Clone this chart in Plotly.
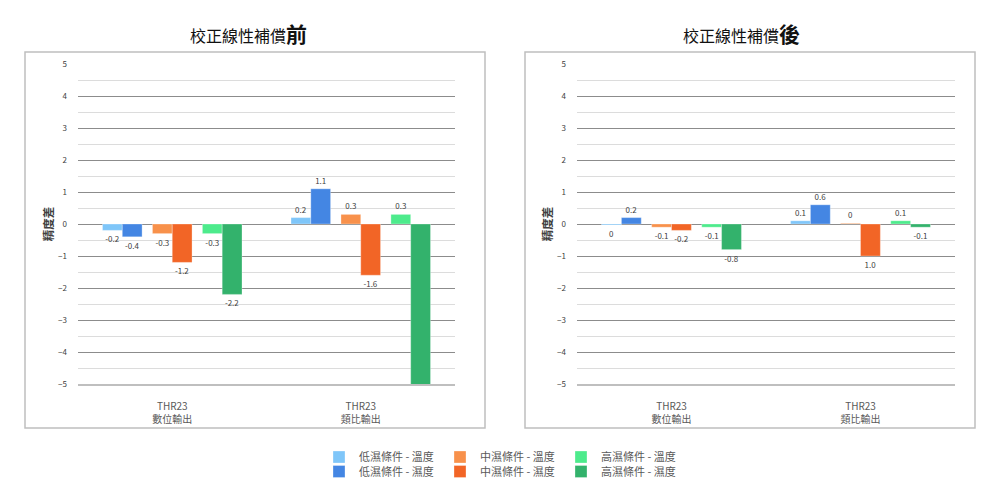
import plotly.graph_objects as go

# Categories and series
categories = ["THR23<br>數位輸出", "THR23<br>類比輸出"]
series_names = [
    "低濕條件 - 溫度", "低濕條件 - 濕度",
    "中濕條件 - 溫度", "中濕條件 - 濕度",
    "高濕條件 - 溫度", "高濕條件 - 濕度",
]
colors = ["#7fc6f9", "#4486e3", "#f8914b", "#f26526", "#4deb8c", "#33b26c"]

# Before linear compensation
before_low_temp = [-0.2, 0.2]
before_low_hum = [-0.4, 1.1]
before_mid_temp = [-0.3, 0.3]
before_mid_hum = [-1.2, -1.6]
before_high_temp = [-0.3, 0.3]
before_high_hum = [-2.2, -5.1]

# After linear compensation
after_low_temp = [-0.03, 0.1]
after_low_hum = [0.2, 0.6]
after_mid_temp = [-0.1, 0.02]
after_mid_hum = [-0.2, -1.0]
after_high_temp = [-0.1, 0.1]
after_high_hum = [-0.8, -0.1]

# Data labels as printed on the chart
after_labels = [["0", "0.1"], ["0.2", "0.6"], ["-0.1", "0"],
                ["-0.2", "1.0"], ["-0.1", "0.1"], ["-0.8", "-0.1"]]

before = [before_low_temp, before_low_hum, before_mid_temp,
          before_mid_hum, before_high_temp, before_high_hum]
after = [after_low_temp, after_low_hum, after_mid_temp,
         after_mid_hum, after_high_temp, after_high_hum]
before_labels = [[f"{v:.1f}" for v in s] for s in before]

FONT = "Noto Sans CJK TC"
W, H = 1000, 500
SHIFT = 8  # page body margin


def px(x):
    return (x - SHIFT) / W


def py(y):
    return 1 - (y - SHIFT) / H


bar_w = 0.105
offsets = [-0.37, -0.265, -0.105, 0.0, 0.16, 0.265]

fig = go.Figure()

for panel, (data, labels) in enumerate([(before, before_labels), (after, after_labels)]):
    xa = "x" if panel == 0 else "x2"
    ya = "y" if panel == 0 else "y2"
    for i, name in enumerate(series_names):
        fig.add_trace(go.Bar(
            x=categories, y=data[i], name=name,
            text=labels[i], textposition="outside", texttemplate="%{text}",
            textfont=dict(size=8, color="#404040", family=FONT),
            cliponaxis=False,
            width=bar_w, offset=offsets[i],
            marker=dict(color=colors[i], line=dict(color="rgba(255,255,255,0.6)", width=0.5)),
            xaxis=xa, yaxis=ya,
            showlegend=(panel == 0),
            legend="legend" if i % 2 == 0 else "legend2",
        ))

yaxis_common = dict(
    range=[-5, 5], dtick=1, tick0=0,
    showgrid=True, gridcolor="#8c8c8c", gridwidth=1,
    zeroline=False,
    minor=dict(dtick=0.5, showgrid=True, gridcolor="#dcdcdc", gridwidth=1),
    tickfont=dict(size=8, color="#404040", family=FONT),
    ticklabelstandoff=10,
    title=dict(text="<b>精度差</b>", font=dict(size=11.5, color="#404040", family=FONT), standoff=2),
    automargin=False,
    fixedrange=True,
)
xaxis_common = dict(
    showgrid=False, showline=True, linecolor="#bfbfbf", linewidth=2,
    tickfont=dict(size=10, color="#595959", family=FONT),
    ticklabelstandoff=12,
    ticks="", automargin=False, fixedrange=True,
)
legend_common = dict(
    orientation="h", x=px(319), xanchor="left", yanchor="middle",
    entrywidth=76, entrywidthmode="pixels", itemwidth=30,
    font=dict(size=11, color="#595959", family=FONT), traceorder="normal",
    tracegroupgap=0, borderwidth=0, bgcolor="rgba(0,0,0,0)",
)

fig.update_layout(
    width=W, height=H,
    paper_bgcolor="white", plot_bgcolor="white",
    margin=dict(l=0, r=0, t=0, b=0, autoexpand=False),
    barmode="overlay",
    font=dict(family=FONT),
    xaxis=dict(domain=[px(78), px(455)], anchor="y", **xaxis_common),
    yaxis=dict(domain=[py(384), py(64)], anchor="x", **yaxis_common),
    xaxis2=dict(domain=[px(577), px(955)], anchor="y2", **xaxis_common),
    yaxis2=dict(domain=[py(384), py(64)], anchor="x2", **yaxis_common),
    legend=dict(y=py(457), **legend_common),
    legend2=dict(y=py(471.5), **legend_common),
    shapes=[
        dict(type="rect", xref="paper", yref="paper", x0=px(25), x1=px(485), y0=py(428), y1=py(52),
             line=dict(color="#bfbfbf", width=1.5)),
        dict(type="rect", xref="paper", yref="paper", x0=px(525), x1=px(975), y0=py(428), y1=py(52),
             line=dict(color="#bfbfbf", width=1.5)),
    ],
    annotations=[
        dict(text="校正線性補償<b><span style='font-size:21px'>前</span></b>", xref="paper", yref="paper",
             x=px(248), y=py(33), xanchor="center", yanchor="middle", showarrow=False,
             font=dict(size=16, color="#111111", family=FONT)),
        dict(text="校正線性補償<b><span style='font-size:21px'>後</span></b>", xref="paper", yref="paper",
             x=px(741), y=py(33), xanchor="center", yanchor="middle", showarrow=False,
             font=dict(size=16, color="#111111", family=FONT)),
    ],
)

fig.write_html("out.html")
